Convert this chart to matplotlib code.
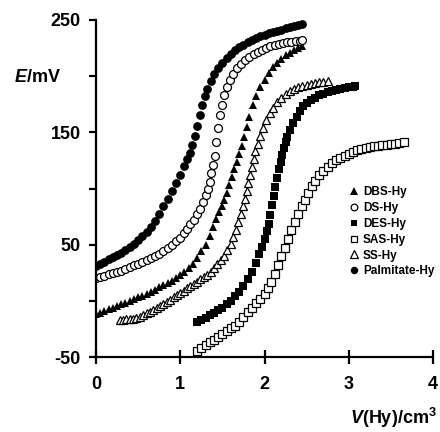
import matplotlib
matplotlib.use("Agg")
import matplotlib.pyplot as plt

plt.rcParams['font.family'] = ['Liberation Sans', 'DejaVu Sans']
plt.rcParams['font.weight'] = 'bold'
plt.rcParams['mathtext.fontset'] = 'custom'
plt.rcParams['mathtext.it'] = 'Liberation Sans:italic:bold'
plt.rcParams['mathtext.rm'] = 'Liberation Sans:bold'
plt.rcParams['mathtext.bf'] = 'Liberation Sans:bold'

# DBS-Hy (filled triangles)
dbs_x = [0.00, 0.05, 0.10, 0.15, 0.20, 0.25, 0.30, 0.35, 0.40, 0.45, 0.50, 0.55,
         0.60, 0.65, 0.70, 0.75, 0.80, 0.85, 0.90, 0.95, 1.00, 1.05, 1.10, 1.15,
         1.20, 1.25, 1.30, 1.35, 1.39, 1.43, 1.46, 1.49, 1.52, 1.55, 1.58, 1.61,
         1.64, 1.67, 1.70, 1.73, 1.76, 1.79, 1.82, 1.86, 1.90, 1.95, 2.00, 2.05,
         2.10, 2.15, 2.20, 2.25, 2.30, 2.35, 2.40, 2.45]
dbs_y = [-12, -10.5, -9, -7.5, -6, -4.5, -3, -1.5, 0, 1.5, 3, 4.5,
         6, 8, 10, 12, 14, 16, 18, 20, 23, 26, 29, 33,
         38, 44, 50, 58, 66, 73, 79, 84, 90, 96, 103, 110,
         117, 124, 131, 138, 146, 155, 164, 174, 182, 190, 197, 203,
         208, 212, 215.5, 218.5, 221, 223, 225, 227]

# DS-Hy (open circles)
ds_x = [0.00, 0.05, 0.10, 0.15, 0.20, 0.25, 0.30, 0.35, 0.40, 0.45, 0.50, 0.55,
        0.60, 0.65, 0.70, 0.75, 0.80, 0.85, 0.90, 0.95, 1.00, 1.04, 1.08, 1.12,
        1.16, 1.20, 1.24, 1.27, 1.30, 1.33, 1.35, 1.37, 1.39, 1.41, 1.43, 1.45,
        1.47, 1.49, 1.52, 1.55, 1.59, 1.63, 1.67, 1.72, 1.77, 1.82, 1.87, 1.92,
        1.97, 2.02, 2.07, 2.12, 2.17, 2.22, 2.27, 2.32, 2.37, 2.42, 2.45]
ds_y = [20, 21, 22.5, 23.5, 25, 26, 27, 28.5, 30, 31.5, 33, 34.5,
        36, 38, 40, 42, 44, 47, 50, 53, 56, 60, 64, 68,
        72, 77, 82, 88, 94, 100, 106, 114, 121, 129, 141, 154,
        165, 174, 183, 190, 197, 202, 207, 211, 214, 217, 219.5, 221.5,
        223.5, 225, 226.5, 227.5, 228.5, 229.5, 230, 230.5, 231, 231.5, 232]

# DES-Hy (filled squares)
des_x = [1.20, 1.25, 1.30, 1.35, 1.40, 1.45, 1.50, 1.55, 1.60, 1.65, 1.70, 1.75,
         1.80, 1.85, 1.90, 1.94, 1.97, 2.00, 2.03, 2.05, 2.07, 2.09, 2.11, 2.13,
         2.15, 2.17, 2.19, 2.21, 2.23, 2.25, 2.27, 2.30, 2.34, 2.38, 2.42, 2.46,
         2.50, 2.55, 2.60, 2.65, 2.70, 2.75, 2.80, 2.85, 2.90, 2.95, 3.00, 3.05, 3.08]
des_y = [-19, -17, -15, -13, -11, -8.5, -6, -3, 0, 4, 8, 13,
         19, 26, 34, 42, 48, 55, 62, 68, 76, 85, 93, 101,
         109, 117, 124, 130, 136, 141, 146, 152, 158, 164, 169, 173,
         176, 179, 181, 183, 184.5, 186, 187, 188, 189, 189.5, 190, 190.5, 191]

# SAS-Hy (open squares)
sas_x = [1.20, 1.25, 1.30, 1.35, 1.40, 1.45, 1.50, 1.55, 1.60, 1.65, 1.70, 1.75,
         1.80, 1.85, 1.90, 1.95, 2.00, 2.04, 2.08, 2.12, 2.16, 2.20, 2.24, 2.28,
         2.32, 2.36, 2.40, 2.44, 2.48, 2.52, 2.56, 2.60, 2.65, 2.70, 2.75, 2.80,
         2.85, 2.90, 2.95, 3.00, 3.05, 3.10, 3.15, 3.20, 3.25, 3.30, 3.35, 3.40,
         3.45, 3.50, 3.55, 3.60, 3.65]
sas_y = [-45, -42, -39.5, -37, -34.5, -32, -29.5, -27, -24.5, -22, -18.5, -14.5,
         -10, -6, -2, 2, 6, 11, 17, 24, 32, 40, 47, 55,
         63, 70, 77, 84, 90, 96, 102, 107, 112, 116, 119.5, 122.5,
         125, 127, 129, 131, 132.5, 134, 135, 136, 137, 137.5, 138, 138.5,
         139, 139.5, 140, 140.5, 141]

# SS-Hy (open triangles)
ss_x = [0.28, 0.32, 0.36, 0.40, 0.44, 0.48, 0.52, 0.56, 0.60, 0.64, 0.68, 0.72,
        0.76, 0.80, 0.84, 0.88, 0.92, 0.96, 1.00, 1.04, 1.08, 1.12, 1.16, 1.20,
        1.24, 1.28, 1.32, 1.36, 1.40, 1.44, 1.48, 1.52, 1.56, 1.60, 1.63, 1.66,
        1.69, 1.72, 1.75, 1.77, 1.79, 1.81, 1.83, 1.85, 1.87, 1.89, 1.92, 1.95,
        1.98, 2.02, 2.06, 2.10, 2.15, 2.20, 2.25, 2.30, 2.35, 2.40, 2.45, 2.50,
        2.55, 2.60, 2.65, 2.70, 2.75]
ss_y = [-17, -17, -16.5, -16.5, -16, -15.5, -14, -12.5, -11, -9.5, -8, -6.5,
        -5, -3, -1, 1, 3, 5, 7, 9, 11, 13, 15, 17,
        19, 21, 23, 26, 29, 32.5, 36, 40, 45, 51, 57, 63,
        70, 77, 84, 91, 98, 105, 112, 119, 126, 133, 140, 147,
        154, 161, 167, 172, 177, 181, 184, 186.5, 188.5, 190, 191, 192,
        193, 194, 194.5, 195, 195.5]

# Palmitate-Hy (filled circles)
pal_x = [0.00, 0.05, 0.10, 0.15, 0.20, 0.25, 0.30, 0.35, 0.40, 0.45, 0.50, 0.55,
         0.60, 0.65, 0.70, 0.75, 0.80, 0.85, 0.90, 0.95, 1.00, 1.05, 1.08, 1.11,
         1.14, 1.17, 1.20, 1.23, 1.26, 1.29, 1.32, 1.36, 1.40, 1.45, 1.50, 1.55,
         1.60, 1.65, 1.70, 1.75, 1.80, 1.85, 1.90, 1.95, 2.00, 2.05, 2.10, 2.15,
         2.20, 2.25, 2.30, 2.35, 2.40, 2.45]
pal_y = [31, 33, 35, 37, 39, 41, 43, 45.5, 48, 51, 54, 57.5,
         61, 66, 71, 77, 84, 91, 98, 105, 112, 120, 126, 132,
         139, 147, 156, 165, 174, 182, 189, 196, 202, 207, 212, 216,
         220, 223, 226, 228, 230, 232, 234, 235.5, 237, 238, 239, 240,
         241.5, 242.5, 243.5, 244.5, 245.5, 246.5]

x_ticks = [0, 1, 2, 3, 4]
y_ticks = [-50, 0, 50, 100, 150, 200, 250]
y_labels = ['-50', '', '50', '', '150', '', '250']


def graph():
    fig = plt.figure(figsize=(4.4, 4.32), dpi=100)
    ax = fig.add_axes([96 / 440, 75 / 432, 337 / 440, 337 / 432])

    ms = 6.3
    ax.plot(dbs_x, dbs_y, '^', color='black', ms=ms, mew=0, label='DBS-Hy')
    ax.plot(ds_x, ds_y, 'o', mfc='white', mec='black', ms=ms - 0.6, mew=0.9, label='DS-Hy')
    ax.plot(des_x, des_y, 's', color='black', ms=ms - 0.6, mew=0, label='DES-Hy')
    ax.plot(sas_x, sas_y, 's', mfc='white', mec='black', ms=ms - 0.8, mew=0.9, label='SAS-Hy')
    ax.plot(ss_x, ss_y, '^', mfc='white', mec='black', ms=ms - 0.3, mew=0.9, label='SS-Hy')
    ax.plot(pal_x, pal_y, 'o', color='black', ms=ms, mew=0, label='Palmitate-Hy')

    ax.set_xlim(0, 4)
    ax.set_ylim(-50, 250)
    ax.spines['top'].set_visible(False)
    ax.spines['right'].set_visible(False)
    ax.spines['left'].set_linewidth(1.6)
    ax.spines['bottom'].set_linewidth(1.6)

    ax.set_xticks(x_ticks)
    ax.set_yticks(y_ticks)
    ax.set_yticklabels(y_labels)
    ax.tick_params(axis='x', direction='inout', length=10, width=1.6,
                   labelsize=13, pad=9)
    ax.tick_params(axis='y', direction='out', length=5, width=1.6,
                   labelsize=13, pad=6)

    ax.text(-0.175, 0.83, '$E$/mV', transform=ax.transAxes, fontsize=13,
            ha='center', va='center')
    fig.text(437 / 440, 1 - 418 / 432, '$V$(Hy)/cm$^3$', fontsize=13,
             ha='right', va='center')

    leg = ax.legend(loc='upper left', bbox_to_anchor=(0.74, 0.52), frameon=False,
                    fontsize=8.5, handlelength=0.6, handletextpad=0.5,
                    labelspacing=0.32, borderaxespad=0, markerscale=0.85)
    for t in leg.get_texts():
        t.set_fontweight('bold')

    fig.savefig('out.png', dpi=100)


if __name__ == "__main__":
    graph()
